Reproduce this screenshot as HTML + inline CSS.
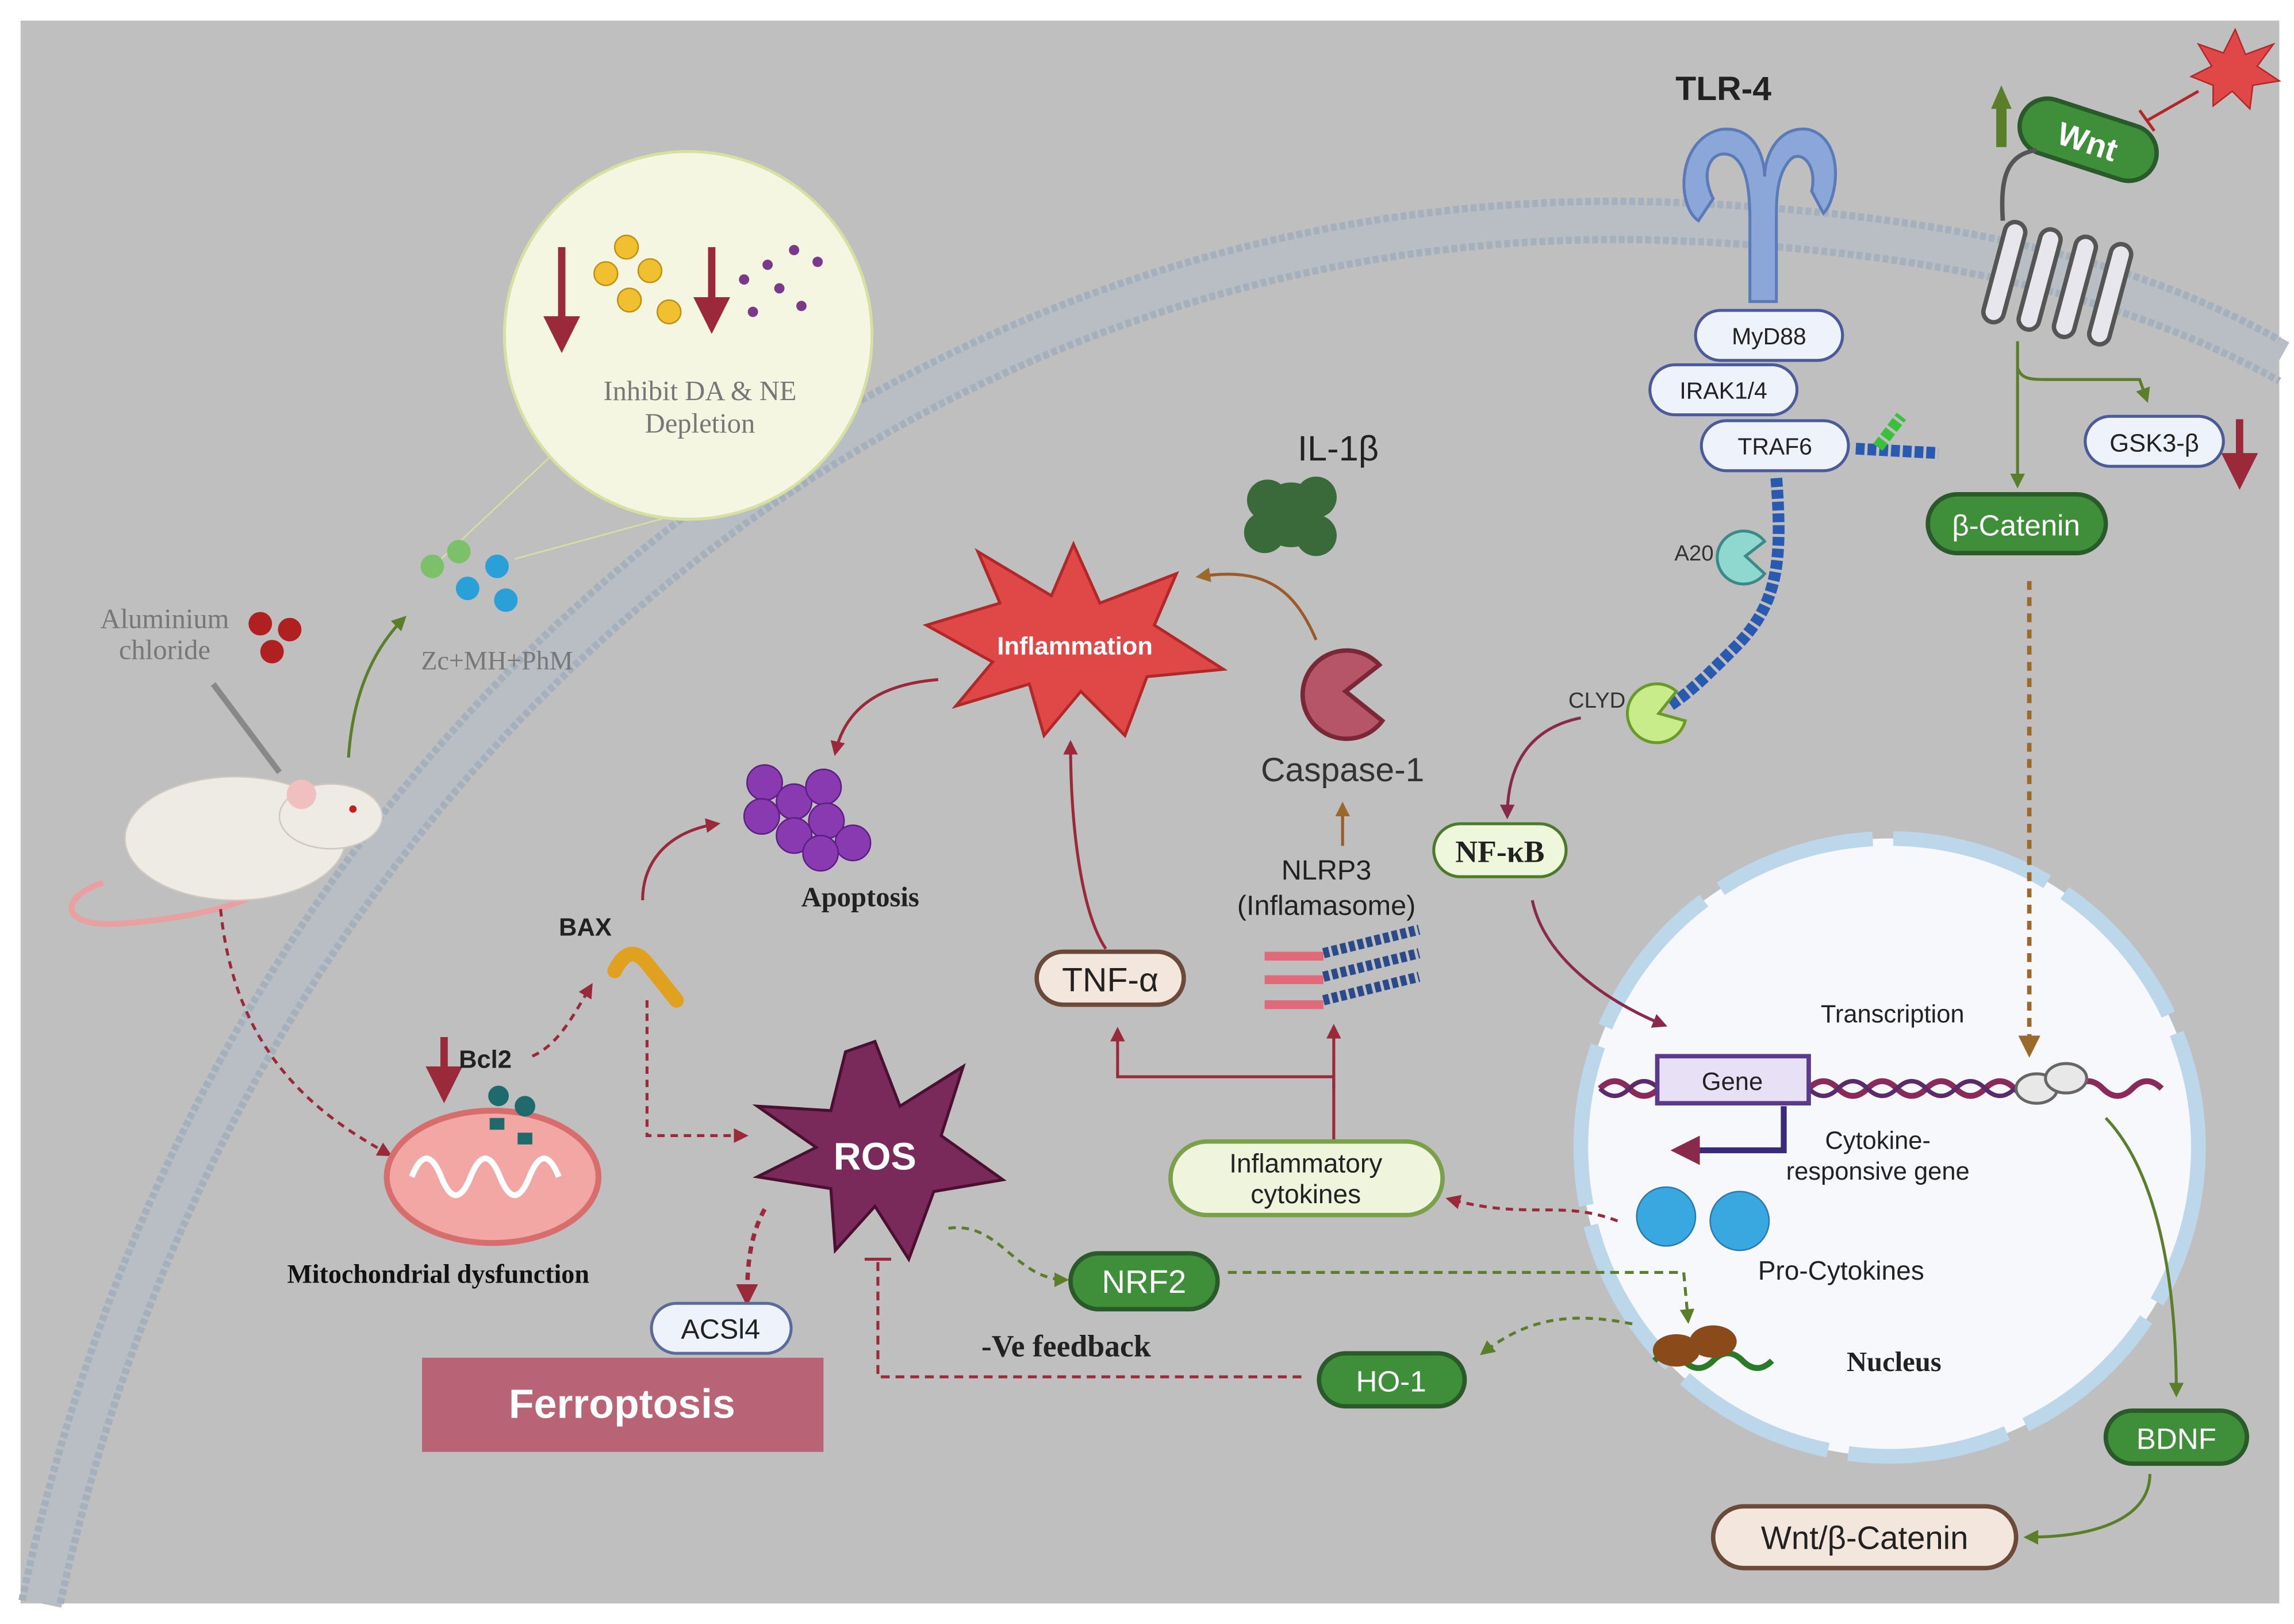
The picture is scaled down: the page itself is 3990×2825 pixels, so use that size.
<!DOCTYPE html>
<html><head><meta charset="utf-8"><style>html,body{margin:0;padding:0;background:#fff}svg{display:block}</style></head><body>
<svg width="3990" height="2825" viewBox="0 0 1560 1104" preserveAspectRatio="none" xmlns="http://www.w3.org/2000/svg" font-family="'Liberation Sans', sans-serif">
<defs>
<marker id="ar" viewBox="0 0 10 10" refX="8" refY="5" markerWidth="5" markerHeight="5" orient="auto"><path d="M0,0L10,5L0,10z" fill="#9a2a3a"/></marker>
<marker id="ag" viewBox="0 0 10 10" refX="8" refY="5" markerWidth="5" markerHeight="5" orient="auto"><path d="M0,0L10,5L0,10z" fill="#5a7e2a"/></marker>
<marker id="ab" viewBox="0 0 10 10" refX="8" refY="5" markerWidth="5" markerHeight="5" orient="auto"><path d="M0,0L10,5L0,10z" fill="#9a6a2a"/></marker>
<marker id="ap" viewBox="0 0 10 10" refX="8" refY="5" markerWidth="5" markerHeight="5" orient="auto"><path d="M0,0L10,5L0,10z" fill="#8a2a4a"/></marker>
</defs>
<rect x="0" y="0" width="1560" height="1104" fill="#fff"/>
<rect x="14" y="14" width="1536" height="1076" fill="#bfbfbf"/>
<!-- membrane -->
<path d="M28 1090 C150 520, 600 140, 1120 150 C1330 156, 1460 195, 1550 245" fill="none" stroke="#b9bec4" stroke-width="28"/>
<path d="M15 1088 C137 510, 591 127, 1120 137 C1330 143, 1460 181, 1550 231" fill="none" stroke="#a5b0bd" stroke-width="5" stroke-dasharray="4 2"/>
<path d="M41 1090 C163 530, 609 153, 1120 163 C1330 169, 1460 209, 1550 259" fill="none" stroke="#a5b0bd" stroke-width="5" stroke-dasharray="4 2"/>
<!-- zoom circle -->
<line x1="300" y1="380" x2="380" y2="305" stroke="#d8e0a0" stroke-width="1"/>
<line x1="350" y1="380" x2="460" y2="350" stroke="#d8e0a0" stroke-width="1"/>
<circle cx="468" cy="228" r="125" fill="#f4f6e2" stroke="#d6e0a0" stroke-width="2"/>
<line x1="382" y1="168" x2="382" y2="235" stroke="#9a2a3a" stroke-width="5" marker-end="url(#ar)"/>
<line x1="484" y1="168" x2="484" y2="222" stroke="#9a2a3a" stroke-width="5" marker-end="url(#ar)"/>
<g fill="#f0c030" stroke="#c09010"><circle cx="426" cy="168" r="8"/><circle cx="412" cy="186" r="8"/><circle cx="442" cy="184" r="8"/><circle cx="428" cy="204" r="8"/><circle cx="455" cy="212" r="8"/></g>
<g fill="#7a3a8a"><circle cx="540" cy="170" r="3.5"/><circle cx="556" cy="178" r="3.5"/><circle cx="522" cy="180" r="3.5"/><circle cx="506" cy="190" r="3.5"/><circle cx="530" cy="196" r="3.5"/><circle cx="545" cy="208" r="3.5"/><circle cx="512" cy="212" r="3.5"/></g>
<text x="476" y="272" text-anchor="middle" font-family="'Liberation Serif',serif" font-size="19" fill="#777">Inhibit DA &amp; NE</text>
<text x="476" y="294" text-anchor="middle" font-family="'Liberation Serif',serif" font-size="19" fill="#777">Depletion</text>
<g><circle cx="294" cy="385" r="8" fill="#7cc06a"/><circle cx="312" cy="375" r="8" fill="#7cc06a"/><circle cx="338" cy="385" r="8" fill="#2a9fd8"/><circle cx="318" cy="400" r="8" fill="#2a9fd8"/><circle cx="344" cy="408" r="8" fill="#2a9fd8"/></g>
<text x="338" y="455" text-anchor="middle" font-family="'Liberation Serif',serif" font-size="18" fill="#777">Zc+MH+PhM</text>
<text x="112" y="427" text-anchor="middle" font-family="'Liberation Serif',serif" font-size="19" fill="#777">Aluminium</text>
<text x="112" y="448" text-anchor="middle" font-family="'Liberation Serif',serif" font-size="19" fill="#777">chloride</text>
<g fill="#b02020"><circle cx="177" cy="424" r="8"/><circle cx="197" cy="428" r="8"/><circle cx="185" cy="443" r="8"/></g>
<!-- mouse -->
<path d="M70 600 C40 610,40 630,80 628 C110 626,150 620,170 610" fill="none" stroke="#e8a0a0" stroke-width="4"/>
<ellipse cx="160" cy="570" rx="75" ry="42" fill="#eeeae4" stroke="#d0c8c0"/>
<ellipse cx="225" cy="555" rx="35" ry="22" fill="#eeeae4" stroke="#d0c8c0"/>
<circle cx="205" cy="540" r="10" fill="#f0c0c0"/>
<circle cx="240" cy="550" r="2.5" fill="#c02020"/>
<line x1="145" y1="465" x2="190" y2="525" stroke="#888" stroke-width="4"/>
<path d="M237 515 C240 470,255 440,275 420" fill="none" stroke="#5a7e2a" stroke-width="2" marker-end="url(#ag)"/>
<path d="M150 618 C160 720,220 760,265 785" fill="none" stroke="#9a2a3a" stroke-width="2" stroke-dasharray="5 4" marker-end="url(#ar)"/>
<!-- mitochondria -->
<ellipse cx="335" cy="800" rx="72" ry="45" fill="#f2a7a4" stroke="#d56e6d" stroke-width="4"/>
<path d="M280 800 q10 -25 20 0 q10 25 20 0 q10 -25 20 0 q10 25 20 0 q10 -25 20 0" fill="none" stroke="#fff" stroke-width="4"/>
<text x="298" y="872" text-anchor="middle" font-family="'Liberation Serif',serif" font-weight="bold" font-size="18" fill="#111">Mitochondrial dysfunction</text>
<line x1="302" y1="705" x2="302" y2="745" stroke="#9a2a3a" stroke-width="5" marker-end="url(#ar)"/>
<text x="330" y="726" text-anchor="middle" font-weight="bold" font-size="17" fill="#222">Bcl2</text>
<g fill="#1f6a6a"><circle cx="339" cy="745" r="7"/><circle cx="357" cy="752" r="7"/><rect x="333" y="760" width="10" height="8"/><rect x="352" y="770" width="10" height="8"/></g>
<path d="M362 718 C380 710,390 690,402 670" fill="none" stroke="#9a2a3a" stroke-width="2" stroke-dasharray="5 4" marker-end="url(#ar)"/>
<text x="398" y="636" text-anchor="middle" font-weight="bold" font-size="17" fill="#222">BAX</text>
<path d="M418 660 q10 -20 22 -5 q12 15 20 25" fill="none" stroke="#e0a020" stroke-width="10" stroke-linecap="round"/>
<path d="M437 612 C437 585,455 565,488 560" fill="none" stroke="#9a2a3a" stroke-width="2" marker-end="url(#ar)"/>
<path d="M440 680 L440 772 L507 772" fill="none" stroke="#9a2a3a" stroke-width="2" stroke-dasharray="5 4" marker-end="url(#ar)"/>
<!-- apoptosis -->
<g fill="#8a3ab0" stroke="#5a2080"><circle cx="520" cy="532" r="12"/><circle cx="540" cy="545" r="12"/><circle cx="560" cy="535" r="12"/><circle cx="518" cy="555" r="12"/><circle cx="540" cy="568" r="12"/><circle cx="562" cy="558" r="12"/><circle cx="580" cy="573" r="12"/><circle cx="558" cy="580" r="12"/></g>
<text x="585" y="616" text-anchor="middle" font-family="'Liberation Serif',serif" font-weight="bold" font-size="19" fill="#222">Apoptosis</text>
<!-- inflammation -->
<polygon points="730,370 748,410 800,390 785,425 832,455 780,460 765,500 735,470 710,500 700,465 650,480 675,450 630,425 680,410 665,375 715,405" fill="#e04848" stroke="#b02828" stroke-width="2"/>
<text x="731" y="445" text-anchor="middle" font-weight="bold" font-size="17" fill="#fff">Inflammation</text>
<path d="M638 462 C600 465,575 480,568 512" fill="none" stroke="#9a2a3a" stroke-width="2" marker-end="url(#ar)"/>
<path d="M752 645 C735 620,728 560,728 505" fill="none" stroke="#9a2a3a" stroke-width="2" marker-end="url(#ar)"/>
<path d="M895 435 C880 400,860 385,815 392" fill="none" stroke="#9a5a2a" stroke-width="2" marker-end="url(#ab)"/>
<text x="910" y="313" text-anchor="middle" font-size="24" fill="#222">IL-1β</text>
<g fill="#3a6a3a"><circle cx="878" cy="350" r="22"/><circle cx="862" cy="340" r="14"/><circle cx="895" cy="338" r="14"/><circle cx="860" cy="362" r="14"/><circle cx="895" cy="364" r="14"/></g>
<path d="M915 470 L938 452 A30 30 0 1 0 940 490 Z" fill="#b65468" stroke="#7a2838" stroke-width="3"/>
<text x="913" y="531" text-anchor="middle" font-size="23" fill="#333">Caspase-1</text>
<line x1="913" y1="575" x2="913" y2="547" stroke="#9a5a2a" stroke-width="2" marker-end="url(#ab)"/>
<text x="902" y="598" text-anchor="middle" font-size="19" fill="#222">NLRP3</text>
<text x="902" y="622" text-anchor="middle" font-size="19" fill="#222">(Inflamasome)</text>
<g stroke="#2a4a8a" stroke-width="7" stroke-dasharray="4 2"><line x1="900" y1="648" x2="965" y2="632"/><line x1="900" y1="664" x2="965" y2="648"/><line x1="900" y1="680" x2="965" y2="664"/></g>
<g stroke="#e06a7a" stroke-width="6"><line x1="860" y1="650" x2="900" y2="650"/><line x1="860" y1="666" x2="900" y2="666"/><line x1="860" y1="683" x2="900" y2="683"/></g>
<rect x="705" y="647" width="100" height="36" rx="18" fill="#f3e6dc" stroke="#6b4a3a" stroke-width="3"/>
<text x="755" y="674" text-anchor="middle" font-size="23" fill="#222">TNF-α</text>
<path d="M907 775 L907 732 L760 732 L760 700" fill="none" stroke="#9a2a3a" stroke-width="2" marker-end="url(#ar)"/>
<line x1="907" y1="740" x2="907" y2="698" stroke="#9a2a3a" stroke-width="2" marker-end="url(#ar)"/>
<rect x="796" y="776" width="185" height="50" rx="25" fill="#eef5dc" stroke="#7ba04a" stroke-width="3"/>
<text x="888" y="797" text-anchor="middle" font-size="18" fill="#222">Inflammatory</text>
<text x="888" y="818" text-anchor="middle" font-size="18" fill="#222">cytokines</text>
<!-- ROS -->
<polygon points="595,708 612,752 655,725 640,772 682,802 635,810 618,856 595,820 568,850 565,808 515,800 555,780 515,752 565,755 575,715" fill="#7a2a5a" stroke="#4a1030" stroke-width="2"/>
<text x="595" y="795" text-anchor="middle" font-weight="bold" font-size="26" fill="#fff">ROS</text>
<path d="M520 822 C510 840,508 860,508 885" fill="none" stroke="#9a2a3a" stroke-width="3" stroke-dasharray="5 4" marker-end="url(#ar)"/>
<path d="M645 835 C680 830,690 870,725 870" fill="none" stroke="#5a7e2a" stroke-width="2" stroke-dasharray="5 4" marker-end="url(#ag)"/>
<rect x="443" y="886" width="95" height="34" rx="17" fill="#eef2fb" stroke="#5a6a9a" stroke-width="2"/>
<text x="490" y="910" text-anchor="middle" font-size="19" fill="#222">ACSl4</text>
<rect x="287" y="923" width="273" height="64" fill="#b86476"/>
<text x="423" y="964" text-anchor="middle" font-weight="bold" font-size="28" fill="#fff">Ferroptosis</text>
<rect x="728" y="852" width="100" height="38" rx="19" fill="#3f8f3a" stroke="#2a5a2a" stroke-width="3"/>
<text x="778" y="879" text-anchor="middle" font-size="22" fill="#fff">NRF2</text>
<text x="725" y="922" text-anchor="middle" font-family="'Liberation Serif',serif" font-weight="bold" font-size="21" fill="#222">-Ve feedback</text>
<path d="M885 936 L597 936 L597 856" fill="none" stroke="#9a2a3a" stroke-width="2" stroke-dasharray="6 4"/>
<line x1="588" y1="856" x2="606" y2="856" stroke="#9a2a3a" stroke-width="2"/>
<rect x="897" y="920" width="99" height="36" rx="18" fill="#3f8f3a" stroke="#2a5a2a" stroke-width="3"/>
<text x="946" y="946" text-anchor="middle" font-size="20" fill="#fff">HO-1</text>
<!-- nucleus -->
<circle cx="1285" cy="780" r="210" fill="#f7f8fb" stroke="#bcd6ea" stroke-width="10" stroke-dasharray="110 14"/>
<path d="M835 865 L1145 865 L1148 898" fill="none" stroke="#5a7e2a" stroke-width="2" stroke-dasharray="6 4" marker-end="url(#ag)"/>
<path d="M1110 900 C1070 892,1040 895,1008 920" fill="none" stroke="#5a7e2a" stroke-width="2" stroke-dasharray="5 4" marker-end="url(#ag)"/>
<path d="M1088 740 q10 -10 20 0 q10 10 20 0 M1230 740 q10 -10 20 0 q10 10 20 0 q10 -10 20 0 q10 10 20 0 q10 -10 20 0 q10 10 20 0 q10 -10 20 0 q10 10 20 0 M1410 740 q10 -10 20 0 q10 10 20 0 q10 -10 20 0" fill="none" stroke="#8a2a5a" stroke-width="4"/>
<path d="M1088 740 q10 10 20 0 q10 -10 20 0 M1230 740 q10 10 20 0 q10 -10 20 0 q10 10 20 0 q10 -10 20 0 q10 10 20 0 q10 -10 20 0 q10 10 20 0 q10 -10 20 0" fill="none" stroke="#5a2a6a" stroke-width="3"/>
<rect x="1127" y="718" width="103" height="32" fill="#e8e0f5" stroke="#5a3a8a" stroke-width="3"/>
<text x="1178" y="741" text-anchor="middle" font-size="17" fill="#222">Gene</text>
<path d="M1213 752 L1213 782 L1140 782" fill="none" stroke="#3a2a7a" stroke-width="4" marker-end="url(#ap)"/>
<g fill="#e8e8e8" stroke="#666" stroke-width="2"><ellipse cx="1385" cy="740" rx="14" ry="10"/><ellipse cx="1405" cy="733" rx="14" ry="10"/></g>
<text x="1287" y="695" text-anchor="middle" font-size="17" fill="#222">Transcription</text>
<text x="1277" y="781" text-anchor="middle" font-size="17" fill="#222">Cytokine-</text>
<text x="1277" y="802" text-anchor="middle" font-size="17" fill="#222">responsive gene</text>
<circle cx="1133" cy="827" r="20" fill="#3aa8e0" stroke="#2a7ab0"/>
<circle cx="1183" cy="830" r="20" fill="#3aa8e0" stroke="#2a7ab0"/>
<path d="M1100 830 C1060 815,1040 830,985 815" fill="none" stroke="#9a2a3a" stroke-width="2" stroke-dasharray="5 4" marker-end="url(#ar)"/>
<text x="1252" y="870" text-anchor="middle" font-size="18" fill="#222">Pro-Cytokines</text>
<path d="M1125 925 q10 -10 20 0 q10 10 20 0 q10 -10 20 0 q10 10 20 0" fill="none" stroke="#2a7a2a" stroke-width="4"/>
<g fill="#8a4a1a"><ellipse cx="1140" cy="918" rx="16" ry="11"/><ellipse cx="1165" cy="912" rx="16" ry="11"/></g>
<text x="1288" y="932" text-anchor="middle" font-family="'Liberation Serif',serif" font-weight="bold" font-size="19" fill="#222">Nucleus</text>
<!-- NF-kB -->
<rect x="975" y="560" width="90" height="36" rx="18" fill="#eef7dc" stroke="#4a7a2a" stroke-width="2"/>
<text x="1020" y="586" text-anchor="middle" font-family="'Liberation Serif',serif" font-weight="bold" font-size="21" fill="#222">NF-κB</text>
<path d="M1042 612 C1050 650,1090 680,1132 697" fill="none" stroke="#8a2a4a" stroke-width="2" marker-end="url(#ap)"/>
<path d="M1075 488 C1040 495,1025 520,1025 555" fill="none" stroke="#8a2a4a" stroke-width="2" marker-end="url(#ap)"/>
<!-- TLR4 -->
<text x="1172" y="68" text-anchor="middle" font-weight="bold" font-size="23" fill="#222">TLR-4</text>
<path d="M1155 150 C1140 140,1140 95,1170 88 C1195 85,1200 110,1200 120 C1200 105,1210 85,1230 88 C1255 95,1250 135,1240 145 L1232 130 C1236 112,1225 102,1218 108 C1208 118,1208 135,1208 150 L1208 205 L1190 205 L1190 150 C1190 130,1188 112,1178 106 C1165 100,1155 115,1165 135 Z" fill="#8ba6d8" stroke="#5a7ab8" stroke-width="2"/>
<rect x="1153" y="211" width="100" height="34" rx="17" fill="#eef2fb" stroke="#4a5a9a" stroke-width="2"/>
<text x="1203" y="234" text-anchor="middle" font-size="16" fill="#222">MyD88</text>
<rect x="1122" y="248" width="100" height="34" rx="17" fill="#eef2fb" stroke="#4a5a9a" stroke-width="2"/>
<text x="1172" y="271" text-anchor="middle" font-size="16" fill="#222">IRAK1/4</text>
<rect x="1157" y="286" width="100" height="34" rx="17" fill="#eef2fb" stroke="#4a5a9a" stroke-width="2"/>
<text x="1207" y="309" text-anchor="middle" font-size="16" fill="#222">TRAF6</text>
<path d="M1262 305 L1318 308" stroke="#2a5ab0" stroke-width="8" stroke-dasharray="6 2"/>
<path d="M1277 304 L1293 283" stroke="#3ac03a" stroke-width="8" stroke-dasharray="6 2"/>
<path d="M1208 325 C1212 380,1210 410,1180 440 C1160 460,1150 470,1135 480" fill="none" stroke="#2a5ab0" stroke-width="8" stroke-dasharray="6 2"/>
<path d="M1187 378 L1200 368 A18 18 0 1 0 1200 390 Z" fill="#8fd8d0" stroke="#3a8a8a" stroke-width="2"/>
<text x="1152" y="381" text-anchor="middle" font-size="15" fill="#333">A20</text>
<path d="M1128 485 L1140 470 A20 20 0 1 0 1146 490 Z" fill="#c8ec8a" stroke="#6a9a2a" stroke-width="2"/>
<text x="1086" y="481" text-anchor="middle" font-size="15" fill="#333">CLYD</text>
<!-- Wnt -->
<polygon points="1520,20 1527,37 1546,30 1535,45 1550,55 1532,58 1530,74 1518,62 1505,72 1505,58 1490,52 1504,45 1495,30 1512,36" fill="#e04848" stroke="#b02828"/>
<line x1="1495" y1="62" x2="1460" y2="82" stroke="#b02828" stroke-width="2"/>
<line x1="1455" y1="75" x2="1465" y2="89" stroke="#b02828" stroke-width="2"/>
<line x1="1361" y1="100" x2="1361" y2="72" stroke="#5a7e2a" stroke-width="7"/>
<polygon points="1354,74 1368,74 1361,58" fill="#5a7e2a"/>
<g transform="rotate(18 1420 95)"><rect x="1372" y="76" width="96" height="38" rx="19" fill="#3f8f3a" stroke="#2a5a2a" stroke-width="3"/><text x="1420" y="104" text-anchor="middle" font-weight="bold" font-size="22" fill="#fff">Wnt</text></g>
<path d="M1385 102 C1365 105,1360 120,1362 150" fill="none" stroke="#555" stroke-width="3"/>
<g fill="#e6e6ec" stroke="#555" stroke-width="3"><rect x="1356" y="150" width="14" height="70" rx="7" transform="rotate(15 1363 185)"/><rect x="1380" y="155" width="14" height="70" rx="7" transform="rotate(15 1387 190)"/><rect x="1404" y="160" width="14" height="70" rx="7" transform="rotate(15 1411 195)"/><rect x="1428" y="165" width="14" height="70" rx="7" transform="rotate(15 1435 200)"/></g>
<path d="M1372 232 L1372 330" stroke="#5a7e2a" stroke-width="2" fill="none" marker-end="url(#ag)"/>
<path d="M1372 250 C1375 258,1380 258,1395 258 L1455 258 L1460 272" stroke="#5a7e2a" stroke-width="2" fill="none" marker-end="url(#ag)"/>
<rect x="1418" y="283" width="94" height="34" rx="17" fill="#eef2fb" stroke="#4a5a9a" stroke-width="2"/>
<text x="1465" y="307" text-anchor="middle" font-size="17" fill="#222">GSK3-β</text>
<line x1="1523" y1="285" x2="1523" y2="328" stroke="#9a2a3a" stroke-width="5" marker-end="url(#ar)"/>
<rect x="1311" y="336" width="121" height="40" rx="20" fill="#3f8f3a" stroke="#2a5a2a" stroke-width="3"/>
<text x="1371" y="364" text-anchor="middle" font-size="20" fill="#fff">β-Catenin</text>
<line x1="1380" y1="395" x2="1380" y2="716" stroke="#9a6a2a" stroke-width="3" stroke-dasharray="6 5" marker-end="url(#ab)"/>
<path d="M1432 760 C1470 800,1480 880,1480 948" fill="none" stroke="#5a7e2a" stroke-width="2" marker-end="url(#ag)"/>
<rect x="1432" y="959" width="96" height="36" rx="18" fill="#3f8f3a" stroke="#2a5a2a" stroke-width="3"/>
<text x="1480" y="985" text-anchor="middle" font-size="20" fill="#fff">BDNF</text>
<path d="M1462 1002 C1462 1030,1430 1045,1378 1045" fill="none" stroke="#5a7e2a" stroke-width="2" marker-end="url(#ag)"/>
<rect x="1165" y="1024" width="206" height="42" rx="21" fill="#f3e6dc" stroke="#6b4a3a" stroke-width="3"/>
<text x="1268" y="1053" text-anchor="middle" font-size="22" fill="#222">Wnt/β-Catenin</text>
</svg>
</body></html>
